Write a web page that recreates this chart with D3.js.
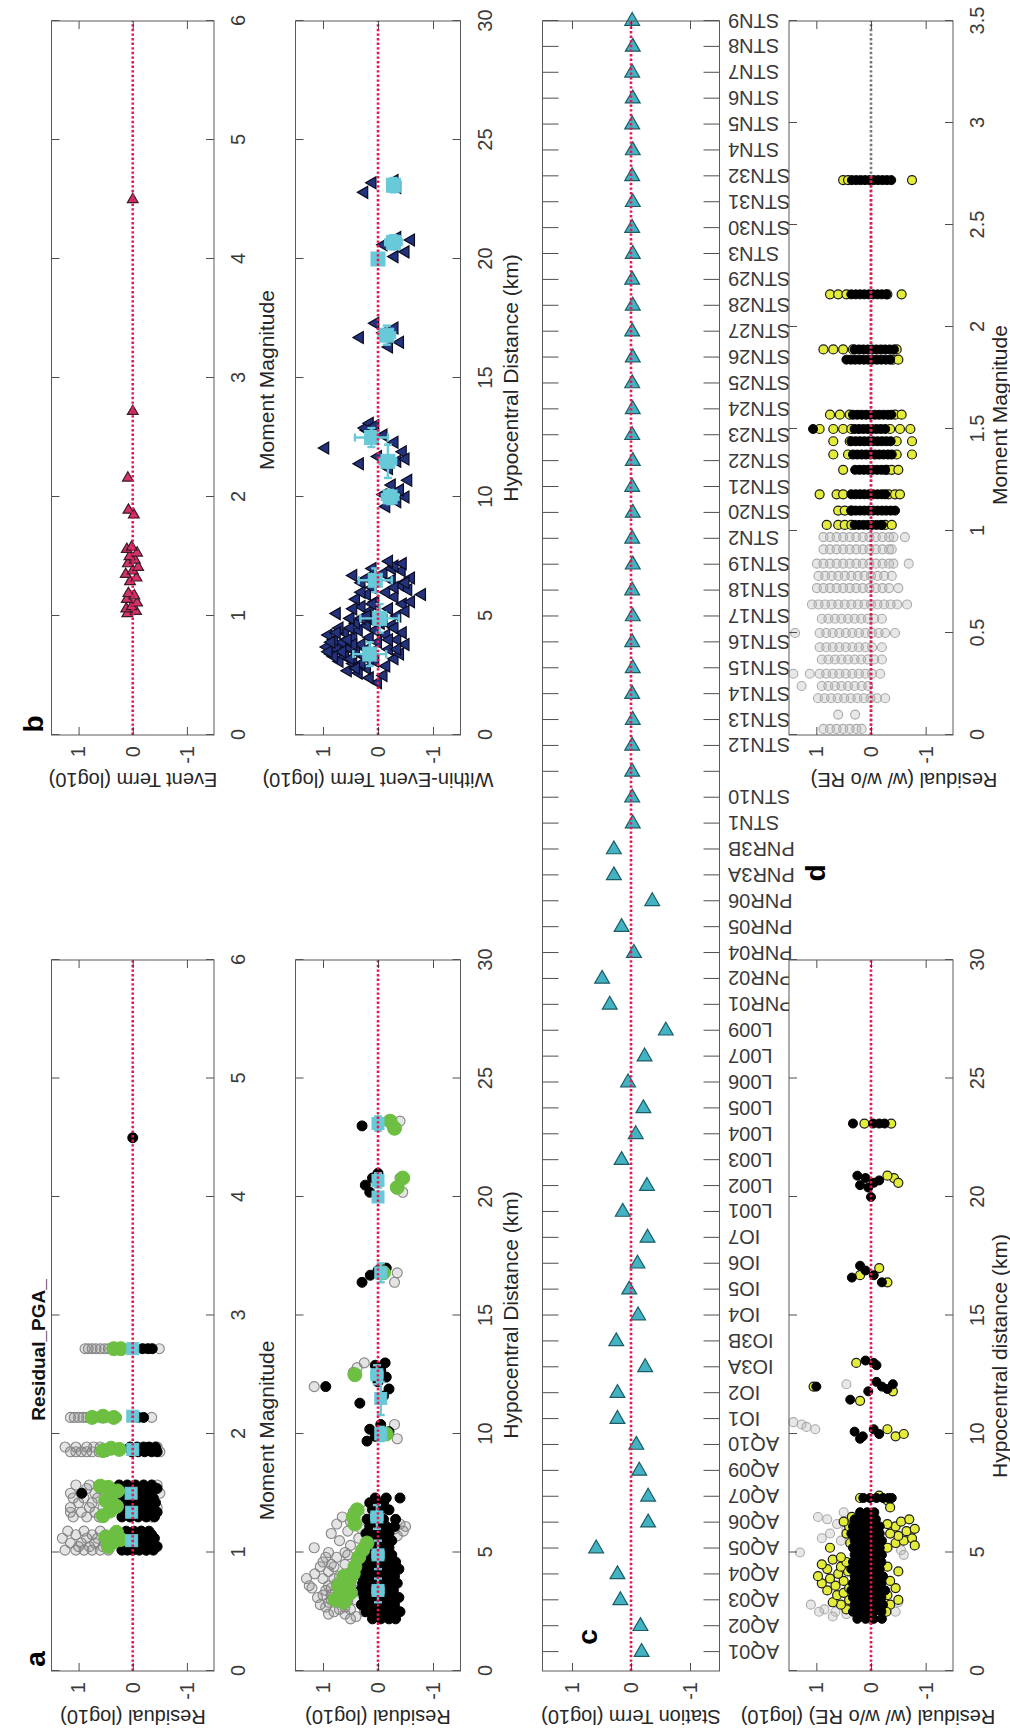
<!DOCTYPE html>
<html>
<head>
<meta charset="utf-8">
<script src="https://cdn.jsdelivr.net/npm/d3@7/dist/d3.min.js"></script>
<style>
html,body{margin:0;padding:0;background:#fff;}
svg text{font-family:"Liberation Sans",Arial,Helvetica,sans-serif;}
</style>
</head>
<body>
<svg id="fig" width="1010" height="1735"></svg>
<script>
// ================= DATA =================
const magTicks = [0,1,2,3,4,5,6];
const distTicks = [0,5,10,15,20,25,30];
const magTicksD = [0,0.5,1,1.5,2,2.5,3,3.5];
const valueTicks = [-1,0,1];

// panel b (top): event terms vs magnitude
const eventMag  = [1.02,1.04,1.06,1.08,1.11,1.14,1.17,1.19,1.29,1.32,1.35,1.38,1.41,1.44,1.47,1.50,1.53,1.56,1.58,1.85,1.89,2.16,2.72,4.50];
const eventTerm = [0.10,-0.06,0.12,0.02,-0.08,0.11,-0.03,0.08,0.05,-0.07,0.13,0.00,-0.10,0.09,-0.04,0.06,-0.08,0.11,0.02,-0.02,0.08,0.09,0.00,0.00];

// panel b (bottom): within-event terms vs distance
const withinEvent = [
[2.2,0.0],[2.4,0.15],[2.5,-0.1],[2.6,0.35],[2.7,0.55],[2.8,0.2],[2.9,-0.15],[3.0,0.45],[3.1,0.7],[3.1,0.05],[3.2,-0.3],[3.3,0.6],[3.3,0.25],[3.4,0.85],[3.4,-0.4],[3.5,0.4],[3.5,0.1],[3.6,0.75],[3.6,-0.2],[3.7,0.55],[3.7,0.93],[3.8,0.3],[3.8,-0.5],[3.9,0.65],[3.9,0.0],[4.0,0.8],[4.0,-0.35],[4.1,0.45],[4.1,0.15],[4.2,0.9],[4.2,-0.15],[4.3,0.6],[4.3,-0.45],[4.4,0.35],[4.4,0.05],[4.5,0.7],[4.6,0.2],[4.6,-0.25],[4.7,0.4],[4.8,0.1],[4.8,-0.1],[4.9,0.3],[5.0,-0.35],[5.1,0.75],[5.2,0.15],[5.3,-0.2],[5.4,0.3],[5.5,-0.45],[5.6,0.05],[5.6,-0.6],[5.7,0.4],[5.8,-0.3],[5.9,-0.8],[5.9,0.2],[6.0,-0.15],[6.1,-0.55],[6.2,0.1],[6.3,-0.4],[6.4,0.3],[6.5,-0.25],[6.6,-0.6],[6.7,0.45],[6.8,-0.1],[6.9,-0.43],[7.0,-0.25],[7.1,-0.3],[7.2,-0.45],[7.3,-0.2],
[3.0,0.3],[3.2,0.5],[3.5,0.65],[3.8,0.45],[4.0,0.55],[4.5,0.5],[2.8,0.4],[3.6,0.2],[4.9,0.5],[5.2,-0.5],[6.0,0.3],[6.4,-0.5],[5.5,0.1],
[3.3,0.8],[3.5,0.9],[3.9,0.85],[4.3,0.75],[3.6,-0.35],[4.0,-0.2],[4.5,-0.3],[3.2,0.15],[4.7,-0.05],[5.0,0.2],[5.3,0.45],[6.2,-0.3],[6.6,0.2],[7.0,0.1],
[9.6,-0.15],[9.8,-0.35],[10.0,-0.5],[10.1,-0.1],[10.3,-0.4],[10.5,-0.25],[10.7,-0.55],
[11.2,-0.2],[11.4,0.33],[11.5,-0.35],[11.7,0.0],[11.9,-0.45],[12.06,0.96],[12.3,-0.3],[12.6,-0.1],[12.8,0.2],[12.9,0.24],[13.1,0.15],[13.0,0.05],[11.6,-0.5],
[16.3,-0.2],[16.5,-0.4],[16.7,0.33],[16.9,-0.1],[17.1,-0.3],[17.3,0.05],
[20.1,-0.3],[20.3,-0.5],[20.6,-0.1],[20.8,-0.6],[20.9,-0.35],
[22.8,0.25],[23.0,-0.35],[23.2,0.1],[23.3,-0.3]
];
// binned means: [distance, mean, distance err, value err]
const withinBins = [[3.4,0.15,0.5,0.3],[4.9,-0.03,0.6,0.35],[6.5,0.05,0.5,0.3],[10.0,-0.22,0.3,0.15],[11.5,-0.18,0.7,0.15],[12.5,0.12,0.4,0.3],[16.8,-0.16,0.4,0.15],[20.0,0.0,0.2,0.05],[20.7,-0.28,0.3,0.15],[23.1,-0.28,0.3,0.1]];

// panel a (top): residual vs magnitude
const resMagGray = [
[1.02,1.25],[1.02,1.05],[1.02,0.9],[1.02,0.75],[1.02,0.6],[1.02,0.45],[1.02,-0.25],
[1.05,1.0],[1.05,0.8],[1.05,0.55],[1.05,-0.3],
[1.08,1.15],[1.08,0.95],[1.08,0.7],[1.08,0.5],
[1.12,1.3],[1.12,0.85],[1.12,0.65],[1.12,-0.2],
[1.15,1.05],[1.15,0.75],[1.15,0.5],
[1.18,1.2],[1.18,0.9],[1.18,0.6],[1.18,-0.15],
[1.30,1.1],[1.30,0.85],[1.30,0.62],[1.30,-0.35],
[1.34,0.95],[1.34,0.7],[1.34,1.15],
[1.38,1.15],[1.38,0.8],[1.38,0.55],[1.38,-0.45],
[1.42,1.0],[1.42,0.75],[1.42,-0.3],
[1.46,1.1],[1.46,0.9],[1.46,0.65],
[1.50,1.15],[1.50,0.95],[1.50,0.7],[1.50,-0.5],
[1.54,0.85],[1.54,0.6],[1.54,-0.35],
[1.57,1.05],[1.57,0.8],[1.57,-0.45],
[1.85,1.15],[1.85,1.05],[1.85,0.95],[1.85,0.85],[1.85,0.75],[1.85,0.62],[1.85,0.5],[1.85,-0.5],
[1.89,1.25],[1.89,1.05],[1.89,0.85],[1.89,0.72],[1.89,0.6],[1.89,0.4],[1.89,-0.45],
[2.14,1.15],[2.14,1.08],[2.14,1.0],[2.14,0.92],[2.14,0.85],[2.14,0.78],[2.14,0.7],[2.14,0.6],[2.14,0.5],[2.14,0.4],[2.14,0.3],[2.14,-0.35],
[2.72,0.88],[2.72,0.82],[2.72,0.75],[2.72,0.68],[2.72,0.6],[2.72,0.52],[2.72,0.45],[2.72,0.38],[2.72,0.3],[2.72,-0.49]
];
const resMagBlack = [
[1.02,0.2],[1.02,0.1],[1.02,0.0],[1.02,-0.12],[1.02,-0.25],[1.02,-0.38],
[1.05,0.15],[1.05,0.05],[1.05,-0.1],[1.05,-0.2],[1.05,-0.32],[1.05,-0.45],
[1.08,0.25],[1.08,0.12],[1.08,-0.05],[1.08,-0.18],[1.08,-0.3],
[1.12,0.18],[1.12,0.02],[1.12,-0.15],[1.12,-0.28],[1.12,-0.4],
[1.15,0.22],[1.15,0.08],[1.15,-0.08],[1.15,-0.22],[1.15,-0.35],
[1.18,0.12],[1.18,-0.02],[1.18,-0.16],[1.18,-0.3],
[1.30,0.2],[1.30,0.05],[1.30,-0.1],[1.30,-0.25],[1.30,-0.4],
[1.34,0.15],[1.34,0.0],[1.34,-0.15],[1.34,-0.3],[1.34,-0.45],
[1.38,0.25],[1.38,0.1],[1.38,-0.05],[1.38,-0.2],[1.38,-0.35],
[1.42,0.18],[1.42,0.03],[1.42,-0.12],[1.42,-0.27],[1.42,-0.42],
[1.46,0.22],[1.46,0.06],[1.46,-0.08],[1.46,-0.22],[1.46,-0.38],
[1.50,0.94],[1.50,0.15],[1.50,0.0],[1.50,-0.15],[1.50,-0.3],
[1.54,0.2],[1.54,0.05],[1.54,-0.1],[1.54,-0.25],[1.54,-0.45],
[1.57,0.25],[1.57,0.1],[1.57,-0.05],[1.57,-0.2],[1.57,-0.35],
[1.85,0.02],[1.85,-0.1],[1.85,-0.22],[1.85,-0.35],[1.85,-0.45],
[1.89,0.05],[1.89,-0.08],[1.89,-0.2],[1.89,-0.3],[1.89,-0.42],
[2.14,-0.1],[2.14,-0.2],
[2.72,-0.18],[2.72,-0.28],[2.72,-0.36],
[4.50,0.0]
];
const resMagGreen = [
[1.05,0.45],[1.09,0.35],[1.13,0.5],[1.17,0.3],[1.11,0.22],
[1.31,0.55],[1.35,0.42],[1.39,0.3],[1.44,0.5],[1.48,0.4],[1.52,0.28],[1.56,0.6],[1.55,0.45],
[1.86,0.55],[1.88,0.4],[1.87,0.25],
[2.14,0.75],[2.15,0.55],[2.14,0.35],
[2.72,0.35],[2.72,0.22]
];
const resMagBins = [[1.10,0.02,0.03,0.07],[1.34,0.02,0.03,0.05],[1.50,0.03,0.03,0.05],[1.87,0.0,0.03,0.08],[2.15,0.0,0.02,0.05],[2.72,0.0,0.02,0.05]];

// panel a (bottom): residual vs distance
const resDistGray = [
[2.3,0.4],[2.4,0.6],[2.5,0.8],[2.6,0.5],[2.7,0.95],[2.8,0.3],[2.9,0.7],[2.5,0.25],[2.8,1.05],[3.0,0.55],[2.6,0.7],[2.9,0.9],[2.2,0.5],[3.0,0.85],
[3.1,1.1],[3.2,0.85],[3.3,0.65],[3.4,0.4],[3.5,1.2],[3.6,0.9],[3.7,0.75],[3.8,0.5],[3.9,1.0],[3.3,0.3],[3.6,0.6],[3.9,0.8],[3.2,1.0],[3.4,0.95],[3.9,1.3],[3.6,1.25],
[4.0,0.7],[4.1,1.15],[4.2,0.9],[4.3,0.45],[4.4,0.8],[4.5,0.6],[4.6,1.0],[4.7,0.4],[4.8,0.75],[4.9,0.55],[4.2,0.3],[4.6,0.25],[4.4,1.05],[4.8,0.95],
[5.0,0.9],[5.2,1.16],[5.3,0.5],[5.5,0.7],[5.6,0.35],[5.8,0.85],[5.9,0.55],[6.0,0.3],[6.2,0.75],[6.3,0.5],[6.5,0.65],[6.7,0.45],[6.8,0.2],[5.1,0.2],[5.4,0.15],
[2.7,0.6],[3.1,0.75],[3.5,0.85],[3.8,0.65],[4.1,0.55],[4.5,0.85],[2.4,0.9],[3.0,0.4],[3.7,0.35],[5.0,0.6],
[5.7,-0.35],[5.9,-0.46],[6.0,-0.3],[6.2,-0.4],[6.1,-0.5],
[10.4,-0.3],[9.8,-0.35],[12.8,0.38],[12.0,1.16],[12.6,0.45],[13.0,0.25],[16.4,-0.3],[16.8,-0.35],[20.2,-0.45],[20.8,-0.4],[23.2,-0.4]
];
const resDistBlack = [
[2.2,0.1],[2.2,-0.05],[2.2,-0.2],[2.2,-0.32],
[2.5,0.22],[2.5,0.05],[2.5,-0.12],[2.5,-0.28],[2.5,-0.4],
[2.8,0.3],[2.8,0.15],[2.8,0.0],[2.8,-0.15],[2.8,-0.3],
[3.1,0.25],[3.1,0.08],[3.1,-0.08],[3.1,-0.22],[3.1,-0.38],
[3.4,0.32],[3.4,0.18],[3.4,0.02],[3.4,-0.12],[3.4,-0.28],
[3.7,0.28],[3.7,0.12],[3.7,-0.05],[3.7,-0.2],[3.7,-0.35],
[4.0,0.3],[4.0,0.15],[4.0,0.0],[4.0,-0.15],[4.0,-0.3],
[4.3,0.25],[4.3,0.08],[4.3,-0.08],[4.3,-0.25],[4.3,-0.38],
[4.6,0.3],[4.6,0.12],[4.6,-0.03],[4.6,-0.18],[4.6,-0.32],
[4.9,0.2],[4.9,0.05],[4.9,-0.1],[4.9,-0.25],
[5.2,0.25],[5.2,0.1],[5.2,-0.05],[5.2,-0.2],
[5.5,0.18],[5.5,0.02],[5.5,-0.12],[5.5,-0.25],
[5.8,0.22],[5.8,0.08],[5.8,-0.08],[5.8,-0.2],
[6.1,0.15],[6.1,0.0],[6.1,-0.15],[6.1,-0.3],
[6.4,0.2],[6.4,0.05],[6.4,-0.1],[6.4,-0.32],
[6.8,0.1],[6.8,-0.05],[6.8,-0.2],
[7.1,0.15],[7.1,0.0],[7.1,-0.1],
[7.3,0.05],[7.3,-0.15],[7.3,-0.4],
[9.7,0.2],[9.9,0.05],[10.2,0.15],[10.4,-0.05],[10.1,-0.2],
[11.3,0.33],[11.6,-0.1],[11.9,-0.2],[12.0,0.95],[12.2,0.0],[12.4,-0.15],[12.7,-0.05],[13.0,-0.13],[12.9,0.05],
[16.4,0.29],[16.7,0.14],[17.0,-0.15],[16.9,0.0],
[20.2,0.15],[20.5,0.23],[20.8,0.1],[21.0,0.0],
[23.0,0.29]
];
const resDistGreen = [
[2.9,0.62],[3.2,0.68],[3.5,0.6],[3.8,0.52],[4.1,0.45],[4.4,0.42],[4.8,0.35],[5.1,0.28],[5.4,0.2],[6.2,0.42],[6.5,0.45],[6.8,0.38],
[3.3,0.5],[3.6,0.72],[4.0,0.62],[3.0,0.78],
[12.5,0.42],[10.0,-0.15],[16.8,-0.1],[20.4,-0.35],[20.8,-0.45],[22.9,-0.3],[23.2,-0.22]
];
const resDistBins = [[3.4,0.0,0.5,0.1],[4.9,0.0,0.6,0.1],[6.5,0.02,0.5,0.1],[10.0,-0.05,0.3,0.05],[11.5,-0.05,0.7,0.05],[12.5,0.02,0.4,0.1],[16.8,-0.05,0.4,0.05],[20.0,0.0,0.2,0.03],[20.7,0.0,0.3,0.05],[23.1,0.0,0.3,0.05]];

// panel c: station terms
const stations = ["AQ01","AQ02","AQ03","AQ04","AQ05","AQ06","AQ07","AQ09","AQ10","IO1","IO2","IO3A","IO3B","IO4","IO5","IO6","IO7","L001","L002","L003","L004","L005","L006","L007","L009","PNR01","PNR02","PNR04","PNR05","PNR06","PNR3A","PNR3B","STN1","STN10","","STN12","STN13","STN14","STN15","STN16","STN17","STN18","STN19","STN2","STN20","STN21","STN22","STN23","STN24","STN25","STN26","STN27","STN28","STN29","STN3","STN30","STN31","STN32","STN4","STN5","STN6","STN7","STN8","STN9"];
const stationTerm = [-0.18,-0.16,0.18,0.23,0.59,-0.29,-0.29,-0.14,-0.09,0.23,0.23,-0.24,0.25,-0.12,0.03,-0.11,-0.28,0.14,-0.27,0.16,-0.08,-0.21,0.05,-0.23,-0.59,0.36,0.49,-0.05,0.16,-0.36,0.29,0.29,-0.03,-0.02,-0.02,-0.02,-0.03,-0.02,-0.03,-0.02,-0.03,-0.02,-0.03,-0.02,-0.03,-0.02,-0.03,-0.02,-0.03,-0.02,-0.03,-0.02,-0.03,-0.02,-0.03,-0.02,-0.03,-0.02,-0.03,-0.02,-0.03,-0.02,-0.03,-0.02];

// panel d (top): residual with / without random effects vs magnitude
const dMagGray = [
[0.97,0.87],[0.97,0.75],[0.97,0.63],[0.97,0.51],[0.97,0.39],[0.97,0.27],[0.97,0.15],[0.97,0.03],[0.97,-0.09],[0.97,-0.21],[0.97,-0.33],[0.97,-0.41],[0.97,-0.62],
[0.91,0.87],[0.91,0.75],[0.91,0.63],[0.91,0.51],[0.91,0.39],[0.91,0.27],[0.91,0.15],[0.91,0.03],[0.91,-0.09],[0.91,-0.21],[0.91,-0.33],[0.91,-0.38],
[0.84,0.99],[0.84,0.87],[0.84,0.75],[0.84,0.63],[0.84,0.51],[0.84,0.39],[0.84,0.27],[0.84,0.15],[0.84,0.03],[0.84,-0.09],[0.84,-0.21],[0.84,-0.33],[0.84,-0.41],[0.84,-0.69],
[0.78,0.96],[0.78,0.84],[0.78,0.72],[0.78,0.6],[0.78,0.48],[0.78,0.36],[0.78,0.24],[0.78,0.12],[0.78,0.0],[0.78,-0.12],[0.78,-0.24],[0.78,-0.38],
[0.72,0.99],[0.72,0.87],[0.72,0.75],[0.72,0.63],[0.72,0.51],[0.72,0.39],[0.72,0.27],[0.72,0.15],[0.72,0.03],[0.72,-0.09],[0.72,-0.21],[0.72,-0.33],[0.72,-0.5],
[0.64,1.08],[0.64,0.96],[0.64,0.84],[0.64,0.72],[0.64,0.6],[0.64,0.48],[0.64,0.36],[0.64,0.24],[0.64,0.12],[0.64,0.0],[0.64,-0.12],[0.64,-0.24],[0.64,-0.36],[0.64,-0.48],[0.64,-0.66],
[0.57,0.9],[0.57,0.78],[0.57,0.66],[0.57,0.54],[0.57,0.42],[0.57,0.3],[0.57,0.18],[0.57,0.06],[0.57,-0.06],[0.57,-0.2],
[0.50,1.39],[0.50,0.94],[0.50,0.82],[0.50,0.7],[0.50,0.58],[0.50,0.46],[0.50,0.34],[0.50,0.22],[0.50,0.1],[0.50,-0.02],[0.50,-0.14],[0.50,-0.26],[0.50,-0.44],
[0.43,0.94],[0.43,0.82],[0.43,0.7],[0.43,0.58],[0.43,0.46],[0.43,0.34],[0.43,0.22],[0.43,0.1],[0.43,-0.02],[0.43,-0.2],
[0.37,0.9],[0.37,0.78],[0.37,0.66],[0.37,0.54],[0.37,0.42],[0.37,0.3],[0.37,0.18],[0.37,0.06],[0.37,-0.06],[0.37,-0.2],
[0.30,1.42],[0.30,1.12],[0.30,0.94],[0.30,0.82],[0.30,0.7],[0.30,0.58],[0.30,0.46],[0.30,0.34],[0.30,0.22],[0.30,0.1],[0.30,-0.02],[0.30,-0.17],
[0.24,1.27],[0.24,0.9],[0.24,0.78],[0.24,0.66],[0.24,0.54],[0.24,0.42],[0.24,0.3],[0.24,0.17],[0.24,0.05],
[0.18,0.97],[0.18,0.85],[0.18,0.73],[0.18,0.61],[0.18,0.49],[0.18,0.37],[0.18,0.25],[0.18,0.13],[0.18,0.01],[0.18,-0.11],[0.18,-0.26],
[0.10,0.6],[0.10,0.29],
[0.03,0.87],[0.03,0.75],[0.03,0.63],[0.03,0.51],[0.03,0.39],[0.03,0.27],[0.03,0.17]
];
const dMagYellow = [
[2.72,0.51],[2.72,0.42],[2.72,-0.75],
[2.16,0.75],[2.16,0.6],[2.16,0.45],[2.16,-0.3],[2.16,-0.56],
[1.89,0.87],[1.89,0.69],[1.89,0.51],[1.89,0.33],[1.89,-0.47],
[1.84,-0.4],[1.84,-0.5],
[1.57,0.75],[1.57,0.57],[1.57,0.39],[1.57,-0.44],[1.57,-0.56],
[1.50,0.94],[1.50,0.69],[1.50,0.51],[1.50,0.36],[1.50,-0.35],[1.50,-0.53],[1.50,-0.72],
[1.44,0.69],[1.44,0.39],[1.44,-0.47],[1.44,-0.75],
[1.375,0.69],[1.375,0.42],[1.375,-0.47],[1.375,-0.75],
[1.30,0.51],[1.30,-0.29],[1.30,-0.38],[1.30,-0.5],
[1.18,0.94],[1.18,0.63],[1.18,0.51],[1.18,-0.32],[1.18,-0.44],[1.18,-0.53],
[1.10,0.6],[1.10,0.48],[1.10,0.36],
[1.03,0.81],[1.03,0.6],[1.03,0.48],[1.03,0.36],[1.03,-0.26],[1.03,-0.38]
];
const dMagBlack = [
[2.72,0.35],[2.72,0.27],[2.72,0.19],[2.72,0.11],[2.72,0.03],[2.72,-0.05],[2.72,-0.13],[2.72,-0.21],[2.72,-0.29],[2.72,-0.37],
[2.16,0.36],[2.16,0.28],[2.16,0.2],[2.16,0.12],[2.16,0.04],[2.16,-0.04],[2.16,-0.12],[2.16,-0.2],[2.16,-0.28],
[1.89,0.3],[1.89,0.22],[1.89,0.14],[1.89,0.06],[1.89,-0.02],[1.89,-0.1],[1.89,-0.18],[1.89,-0.26],[1.89,-0.34],[1.89,-0.42],
[1.84,0.45],[1.84,0.37],[1.84,0.29],[1.84,0.21],[1.84,0.13],[1.84,0.05],[1.84,-0.03],[1.84,-0.11],[1.84,-0.19],[1.84,-0.27],[1.84,-0.35],
[1.57,0.33],[1.57,0.25],[1.57,0.17],[1.57,0.09],[1.57,0.01],[1.57,-0.07],[1.57,-0.15],[1.57,-0.23],[1.57,-0.31],[1.57,-0.37],
[1.50,1.06],[1.50,0.3],[1.50,0.22],[1.50,0.14],[1.50,0.06],[1.50,-0.02],[1.50,-0.1],[1.50,-0.18],[1.50,-0.26],
[1.44,0.36],[1.44,0.28],[1.44,0.2],[1.44,0.12],[1.44,0.04],[1.44,-0.04],[1.44,-0.12],[1.44,-0.2],[1.44,-0.28],[1.44,-0.36],
[1.375,0.33],[1.375,0.25],[1.375,0.17],[1.375,0.09],[1.375,0.01],[1.375,-0.07],[1.375,-0.15],[1.375,-0.23],[1.375,-0.31],[1.375,-0.38],
[1.30,0.29],[1.30,0.21],[1.30,0.13],[1.30,0.05],[1.30,-0.03],[1.30,-0.11],[1.30,-0.19],[1.30,-0.26],
[1.18,0.36],[1.18,0.28],[1.18,0.2],[1.18,0.12],[1.18,0.04],[1.18,-0.04],[1.18,-0.12],[1.18,-0.2],[1.18,-0.26],
[1.10,0.36],[1.10,0.28],[1.10,0.2],[1.10,0.12],[1.10,0.04],[1.10,-0.04],[1.10,-0.12],[1.10,-0.2],[1.10,-0.28],[1.10,-0.36],[1.10,-0.44],
[1.03,0.3],[1.03,0.22],[1.03,0.14],[1.03,0.06],[1.03,-0.02],[1.03,-0.1],[1.03,-0.18],[1.03,-0.2]
];

// panel d (bottom): residual with / without random effects vs distance
const dDistGray = [
[6.5,0.97],[6.4,0.8],[6.2,0.62],[6.0,0.45],[5.8,0.75],[5.6,0.9],[5.5,0.55],[5.0,1.3],[4.9,-0.6],[5.1,-0.55],[6.7,0.5],
[2.8,1.1],[2.6,0.85],[2.5,0.65],[2.4,0.45],[2.3,0.25],[2.4,0.05],[2.6,0.3],[2.3,0.7],[2.5,0.95],[2.7,-0.3],[2.5,-0.45],[2.9,-0.5],
[10.5,1.42],[10.4,1.27],[10.3,1.18],[10.2,1.02],[12.1,0.45]
];
const dDistYellow = [
[2.6,0.45],[2.8,0.55],[2.9,0.7],[3.0,0.4],[3.2,0.62],[3.3,0.5],[3.4,0.8],[3.5,0.4],[3.6,0.65],[3.7,0.9],[3.8,0.5],[3.9,0.75],[4.0,0.97],[4.1,0.6],[4.2,0.42],[4.3,0.8],[4.4,0.55],[4.5,0.9],[4.6,0.45],[4.7,0.7],[4.8,0.55],[5.2,0.75],[5.4,0.38],[5.8,0.45],[6.1,0.4],[6.3,0.5],[6.5,0.35],
[5.2,-0.3],[5.4,-0.45],[5.5,-0.6],[5.6,-0.75],[5.7,-0.5],[5.8,-0.35],[5.9,-0.65],[6.0,-0.8],[6.1,-0.45],[6.2,-0.3],[6.3,-0.55],[6.4,-0.7],[5.3,-0.8],
[2.8,-0.35],[3.0,-0.5],[3.2,-0.3],[3.5,-0.45],[3.8,-0.35],[4.2,-0.5],[4.4,-0.3],[2.5,-0.28],
[7.3,0.2],[7.2,-0.3],[7.4,-0.15],[6.9,-0.35],[2.2,0.0],
[23.1,0.12],[23.1,-0.37],[20.8,-0.42],[20.6,-0.5],[20.9,-0.3],[16.7,0.2],[16.4,-0.3],[17.0,-0.15],[13.0,0.27],[12.0,1.05],[11.8,-0.4],[11.4,0.2],[10.2,-0.3],[9.9,-0.45],[10.0,-0.6]
];
const dDistBlack = [
[2.2,0.25],[2.2,0.1],[2.2,-0.05],[2.2,-0.2],
[2.5,0.33],[2.5,0.2],[2.5,0.07],[2.5,-0.06],[2.5,-0.19],
[2.8,0.3],[2.8,0.17],[2.8,0.04],[2.8,-0.09],[2.8,-0.22],
[3.1,0.33],[3.1,0.2],[3.1,0.07],[3.1,-0.06],[3.1,-0.19],
[3.4,0.36],[3.4,0.23],[3.4,0.1],[3.4,-0.03],[3.4,-0.16],[3.4,-0.26],
[3.7,0.33],[3.7,0.2],[3.7,0.07],[3.7,-0.06],[3.7,-0.19],
[4.0,0.3],[4.0,0.17],[4.0,0.04],[4.0,-0.09],[4.0,-0.22],
[4.3,0.36],[4.3,0.23],[4.3,0.1],[4.3,-0.03],[4.3,-0.16],
[4.6,0.33],[4.6,0.2],[4.6,0.07],[4.6,-0.06],[4.6,-0.19],
[4.9,0.3],[4.9,0.17],[4.9,0.04],[4.9,-0.09],[4.9,-0.2],
[5.2,0.33],[5.2,0.2],[5.2,0.07],[5.2,-0.06],[5.2,-0.16],
[5.5,0.3],[5.5,0.17],[5.5,0.04],[5.5,-0.09],[5.5,-0.2],
[5.8,0.36],[5.8,0.23],[5.8,0.1],[5.8,-0.03],[5.8,-0.16],
[6.1,0.33],[6.1,0.2],[6.1,0.07],[6.1,-0.06],[6.1,-0.16],
[6.4,0.3],[6.4,0.17],[6.4,0.04],[6.4,-0.09],
[6.7,0.2],[6.7,0.07],[6.7,-0.06],
[7.3,0.14],[7.3,0.02],[7.3,-0.1],[7.3,-0.22],[7.3,-0.32],[7.3,-0.38],
[23.1,0.33],[23.1,-0.04],[23.1,-0.15],[23.1,-0.25],
[20.9,0.25],[20.8,0.1],[20.6,-0.05],[20.5,0.2],[20.7,-0.15],[20.4,0.05],[20.0,0.0],
[17.1,0.2],[16.9,0.1],[16.6,0.35],[16.4,-0.2],[16.7,-0.05],
[13.1,0.1],[13.0,-0.05],[12.9,-0.1],
[12.0,1.0],[12.2,-0.1],[11.9,-0.3],[12.1,-0.4],[11.8,0.05],[12.0,-0.2],[11.45,0.38],
[10.1,0.3],[9.9,0.15],[10.2,-0.05],[9.8,0.2],[10.0,-0.15]
];

// ================= DRAWING =================
const FONT = '"Liberation Sans", Arial, Helvetica, sans-serif';
const RED = '#e8174f';
const svg = d3.select('#fig');
svg.append('rect').attr('width',1010).attr('height',1735).attr('fill','#fff');
// the whole figure is drawn in landscape coordinates and turned a quarter turn
const root = svg.append('g').attr('transform','translate(0,1735) rotate(-90)');

function makePanel(o){
  const x = d3.scaleLinear().domain(o.xd).range(o.xr);
  const y = d3.scaleLinear().domain([1.5,-1.5]).range(o.yr);
  const g = root.append('g');
  g.append('rect').attr('x',o.xr[0]).attr('y',o.yr[0])
    .attr('width',o.xr[1]-o.xr[0]).attr('height',o.yr[1]-o.yr[0]).attr('fill','#fff');
  const data = g.append('g');
  return {x,y,g,data,o};
}
function zeroLine(p, x0, x1, color){
  p.g.append('line').attr('x1',p.x(x0)).attr('x2',p.x(x1)).attr('y1',p.y(0)).attr('y2',p.y(0))
    .attr('stroke',color).attr('stroke-width',2.6).attr('stroke-dasharray','2.4,2.2');
}
function finishPanel(p){
  const {x,y,g,o} = p;
  const fmt = d => String(d);
  const tl = o.tl || 8;
  const bottom = g.append('g').attr('transform',`translate(0,${o.yr[1]})`)
    .call(d3.axisBottom(x).tickValues(o.xt).tickSize(-tl).tickPadding(o.tp||17).tickFormat(o.xf||fmt));
  const top = g.append('g').attr('transform',`translate(0,${o.yr[0]})`)
    .call(d3.axisTop(x).tickValues(o.xt).tickSize(-tl).tickFormat(''));
  const left = g.append('g').attr('transform',`translate(${o.xr[0]},0)`)
    .call(d3.axisLeft(y).tickValues(valueTicks).tickSize(-8).tickPadding(11).tickFormat(fmt));
  const right = g.append('g').attr('transform',`translate(${o.xr[1]},0)`)
    .call(d3.axisRight(y).tickValues(valueTicks).tickSize(-8).tickFormat(''));
  [bottom,top,left,right].forEach(a=>{
    a.select('.domain').remove();
    a.attr('color','#3a3a3a').attr('font-size',20).attr('font-family',FONT);
    a.selectAll('line').attr('stroke-width',0.9);
  });
  g.append('rect').attr('x',o.xr[0]).attr('y',o.yr[0])
    .attr('width',o.xr[1]-o.xr[0]).attr('height',o.yr[1]-o.yr[0])
    .attr('fill','none').attr('stroke','#5a5a5a').attr('stroke-width',1);
  return bottom;
}
function xTitle(text, cx, cy, size){
  root.append('text').attr('x',cx).attr('y',cy).attr('dy','0.35em').attr('text-anchor','middle')
    .attr('font-size',size||20).attr('fill','#262626').text(text);
}
function yTitle(text, cx, cy){
  root.append('text').attr('transform',`translate(${cx},${cy}) rotate(-90)`).attr('dy','0.35em')
    .attr('text-anchor','middle').attr('font-size',20).attr('fill','#262626').text(text);
}
function circles(p, arr, r, fill, stroke, sw){
  p.data.append('g').selectAll('circle').data(arr).join('circle')
    .attr('cx',d=>p.x(d[0])).attr('cy',d=>p.y(d[1])).attr('r',r)
    .attr('fill',fill).attr('stroke',stroke).attr('stroke-width',sw||1);
}
function triangles(p, xs, ys, size, rot, fill, stroke){
  const sym = d3.symbol().type(d3.symbolTriangle).size(size);
  p.data.append('g').selectAll('path').data(xs.map((v,i)=>[v,ys[i]])).join('path')
    .attr('d',sym).attr('transform',d=>`translate(${p.x(d[0])},${p.y(d[1])}) rotate(${rot})`)
    .attr('fill',fill).attr('stroke',stroke).attr('stroke-width',1.2);
}
function bins(p, arr, color, half){
  const gb = p.data.append('g').attr('stroke',color).attr('stroke-width',2.4);
  arr.forEach(([bx,by,ex,ey])=>{
    const X=p.x(bx), Y=p.y(by);
    gb.append('line').attr('x1',X).attr('x2',X).attr('y1',p.y(by-ey)).attr('y2',p.y(by+ey));
    gb.append('line').attr('x1',X-4).attr('x2',X+4).attr('y1',p.y(by-ey)).attr('y2',p.y(by-ey));
    gb.append('line').attr('x1',X-4).attr('x2',X+4).attr('y1',p.y(by+ey)).attr('y2',p.y(by+ey));
    gb.append('line').attr('x1',p.x(bx-ex)).attr('x2',p.x(bx+ex)).attr('y1',Y).attr('y2',Y);
    gb.append('line').attr('x1',p.x(bx-ex)).attr('x2',p.x(bx-ex)).attr('y1',Y-4).attr('y2',Y+4);
    gb.append('line').attr('x1',p.x(bx+ex)).attr('x2',p.x(bx+ex)).attr('y1',Y-4).attr('y2',Y+4);
  });
  p.data.append('g').selectAll('rect').data(arr).join('rect')
    .attr('x',d=>p.x(d[0])-half).attr('y',d=>p.y(d[1])-half).attr('width',2*half).attr('height',2*half)
    .attr('fill',color).attr('stroke',color);
}

const topX = [1000,1714], botX = [64,775];
const col1 = [51.5,214], col2 = [295.5,460.5], col3 = [542.5,719.5], col4 = [789,953];
const GRAY_A = 'rgba(130,130,130,0.22)', GRAY_D = 'rgba(175,175,175,0.3)';

// ---- panel b, event term vs magnitude ----
const pB1 = makePanel({xd:[0,6], xr:topX, yr:col1, xt:magTicks});
triangles(pB1, eventMag, eventTerm, 50, 90, '#d2336a', '#3b1b25');
zeroLine(pB1, 0, 6, RED);
finishPanel(pB1);

// ---- panel b, within-event term vs distance ----
const pB2 = makePanel({xd:[0,30], xr:topX, yr:col2, xt:distTicks});
triangles(pB2, withinEvent.map(d=>d[0]), withinEvent.map(d=>d[1]), 62, 0, '#23327c', '#0b0b22');
bins(pB2, withinBins, '#68c9d8', 7);
zeroLine(pB2, 0, 30, RED);
finishPanel(pB2);

// ---- panel a, residual vs magnitude ----
const pA1 = makePanel({xd:[0,6], xr:botX, yr:col1, xt:magTicks});
circles(pA1, resMagGray, 5, GRAY_A, '#858585', 1.1);
circles(pA1, resMagBlack, 5, '#000', '#000', 1);
circles(pA1, resMagGreen, 7, '#6cbf41', '#6cbf41', 1);
bins(pA1, resMagBins, '#68c9d8', 6);
zeroLine(pA1, 0, 6, RED);
finishPanel(pA1);

// ---- panel a, residual vs distance ----
const pA2 = makePanel({xd:[0,30], xr:botX, yr:col2, xt:distTicks});
circles(pA2, resDistGray, 5, GRAY_A, '#858585', 1.1);
circles(pA2, resDistBlack, 5, '#000', '#000', 1);
circles(pA2, resDistGreen, 7, '#6cbf41', '#6cbf41', 1);
bins(pA2, resDistBins, '#68c9d8', 6);
zeroLine(pA2, 0, 30, RED);
finishPanel(pA2);

// ---- panel c, station terms ----
const pC = makePanel({xd:[0.27,64], xr:[64,1714], yr:col3, xt:d3.range(1,65), tl:16, xf:i=>stations[i-1]});
triangles(pC, d3.range(1,65), stationTerm, 95, 90, '#43b3c4', '#1c5c66');
zeroLine(pC, 0.27, 64, RED);
const axC = finishPanel(pC);
axC.selectAll('text').attr('y',0).attr('x',-8.5).attr('dy','0.35em')
  .attr('transform','rotate(-90)').attr('text-anchor','end');

// ---- panel d, residual vs magnitude ----
const pD1 = makePanel({xd:[0,3.5], xr:topX, yr:col4, xt:magTicksD});
circles(pD1, dMagGray, 4.5, GRAY_D, '#aaaaaa', 1.1);
circles(pD1, dMagYellow, 4.5, '#e4ec3a', '#1a1a1a', 1.2);
circles(pD1, dMagBlack, 4.5, '#000', '#000', 1);
zeroLine(pD1, 0, 3.5, '#777');
zeroLine(pD1, 0, 2.75, RED);
finishPanel(pD1);

// ---- panel d, residual vs distance ----
const pD2 = makePanel({xd:[0,30], xr:botX, yr:col4, xt:distTicks});
circles(pD2, dDistGray, 4.5, GRAY_D, '#aaaaaa', 1.1);
circles(pD2, dDistYellow, 4.5, '#e4ec3a', '#1a1a1a', 1.2);
circles(pD2, dDistBlack, 4.5, '#000', '#000', 1);
zeroLine(pD2, 0, 30, RED);
finishPanel(pD2);

// ---- titles ----
xTitle('Moment Magnitude', 1355, 267, 21);
xTitle('Hypocentral Distance (km)', 1357, 511, 21);
xTitle('Moment Magnitude', pA1.x(2.03), 267, 21);
xTitle('Hypocentral Distance (km)', 420, 511, 21);
xTitle('Moment Magnitude', 1320, 1000, 21);
xTitle('Hypocentral distance (km)', 379, 1000, 21);

yTitle('Event Term (log10)', 955, 133);
yTitle('Within-Event Term (log10)', 955, 378);
yTitle('Residual (log10)', 18, 133);
yTitle('Residual (log10)', 18, 378);
yTitle('Station Term (log10)', 18, 631);
yTitle('Residual (w/ w/o RE)', 955, 904);
yTitle('Residual (w/ w/o RE) (log10)', 18, 868);

root.append('text').attr('x',385).attr('y',38).attr('dy','0.35em').attr('text-anchor','middle')
  .attr('font-size',19).attr('font-weight','bold').attr('fill','#111').text('Residual_PGA_');

[['a',76,35],['b',1011,33],['c',98,587],['d',862,815]].forEach(([t,x,y])=>{
  root.append('text').attr('x',x).attr('y',y).attr('dy','0.35em').attr('text-anchor','middle')
    .attr('font-family','"Liberation Serif", "DejaVu Serif", serif').attr('font-weight','bold')
    .attr('font-size',28).attr('fill','#000').text(t);
});
</script>
</body>
</html>
